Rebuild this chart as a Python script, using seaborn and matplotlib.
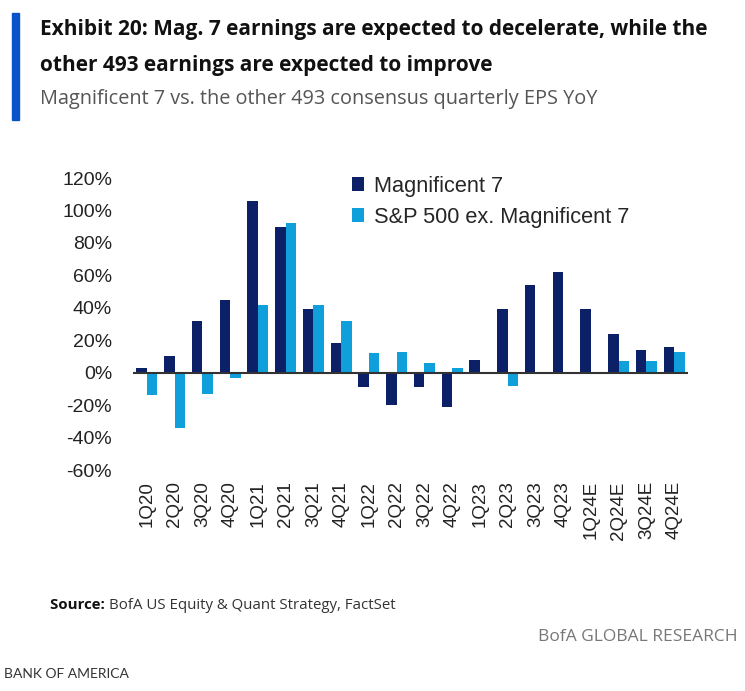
import pandas as pd
import numpy as np
import matplotlib.pyplot as plt
import seaborn as sns

quarters = ['1Q20', '2Q20', '3Q20', '4Q20', '1Q21', '2Q21', '3Q21', '4Q21',
            '1Q22', '2Q22', '3Q22', '4Q22', '1Q23', '2Q23', '3Q23', '4Q23',
            '1Q24E', '2Q24E', '3Q24E', '4Q24E']
mag7 = [3, 10, 32, 45, 106, 90, 39, 18,
        -9, -20, -9, -21, 8, 39, 54, 62,
        39, 24, 14, 16]
ex_mag7 = [-14, -34, -13, -3, 42, 92, 42, 32,
           12, 13, 6, 3, -1, -8, 0.5, 0.5,
           -1, 7, 7, 13]
series_names = ['Magnificent 7', 'S&P 500 ex. Magnificent 7']

df = pd.DataFrame({
    'quarter': quarters * 2,
    'eps': mag7 + ex_mag7,
    'series': [series_names[0]] * len(quarters) + [series_names[1]] * len(quarters),
})

sns.set_style('white')
plt.rcParams['font.family'] = ['Liberation Sans', 'DejaVu Sans']

fig = plt.figure(figsize=(7.45, 6.91), dpi=100)
ax = fig.add_axes([0.1785, 0.3198, 0.745, 0.4226])

sns.barplot(data=df, x='quarter', y='eps', hue='series',
            palette=['#0c2068', '#0fa0dc'], width=0.76, saturation=1,
            linewidth=0, ax=ax)

ax.set_ylim(-60, 120)
ax.set_yticks(range(-60, 121, 20))
ax.set_yticklabels([f'{v}%' for v in range(-60, 121, 20)], fontsize=14, color='#222222')
ax.set_xlim(-0.5, len(quarters) - 0.5)
ax.set_xlabel('')
ax.set_ylabel('')
ax.tick_params(axis='x', rotation=90, labelsize=13.5, colors='#222222', pad=8, length=0)
ax.tick_params(axis='y', length=0, pad=15)
for s in ax.spines.values():
    s.set_visible(False)
ax.axhline(0, color='#333333', lw=1.5, zorder=3)

leg = ax.legend(loc='upper left', bbox_to_anchor=(0.36, 1.075), frameon=False,
                fontsize=15.7, handlelength=0.55, handleheight=0.65,
                handletextpad=0.45, labelspacing=0.45)

# header
fig.patches.append(plt.Rectangle((0.016, 0.826), 0.009, 0.155, transform=fig.transFigure,
                                 color='#0a52c9', zorder=5))
fig.text(0.054, 0.958, 'Exhibit 20: Mag. 7 earnings are expected to decelerate, while the',
         fontsize=15.0, fontweight='bold', family='Open Sans', va='center', color='#111111')
fig.text(0.054, 0.905, 'other 493 earnings are expected to improve',
         fontsize=15.0, fontweight='bold', family='Open Sans', va='center', color='#111111')
fig.text(0.054, 0.857, 'Magnificent 7 vs. the other 493 consensus quarterly EPS YoY',
         fontsize=14.3, family='Open Sans', va='center', color='#555555')

# footer
src = fig.text(0.067, 0.124, 'Source: ', fontsize=10.8, fontweight='bold', family='Open Sans',
               va='center', color='#111111')
renderer = fig.canvas.get_renderer()
bb = src.get_window_extent(renderer).transformed(fig.transFigure.inverted())
fig.text(bb.x1, 0.124, 'BofA US Equity & Quant Strategy, FactSet', fontsize=10.8,
         family='Open Sans', va='center', color='#333333')
fig.text(0.99, 0.078, 'BofA GLOBAL RESEARCH', fontsize=12.5, family='Open Sans',
         ha='right', va='center', color='#777777')
fig.text(0.006, 0.025, 'BANK OF AMERICA', fontsize=10, family='Lato',
         va='center', color='#333333')

fig.savefig('out.png', dpi=100)
